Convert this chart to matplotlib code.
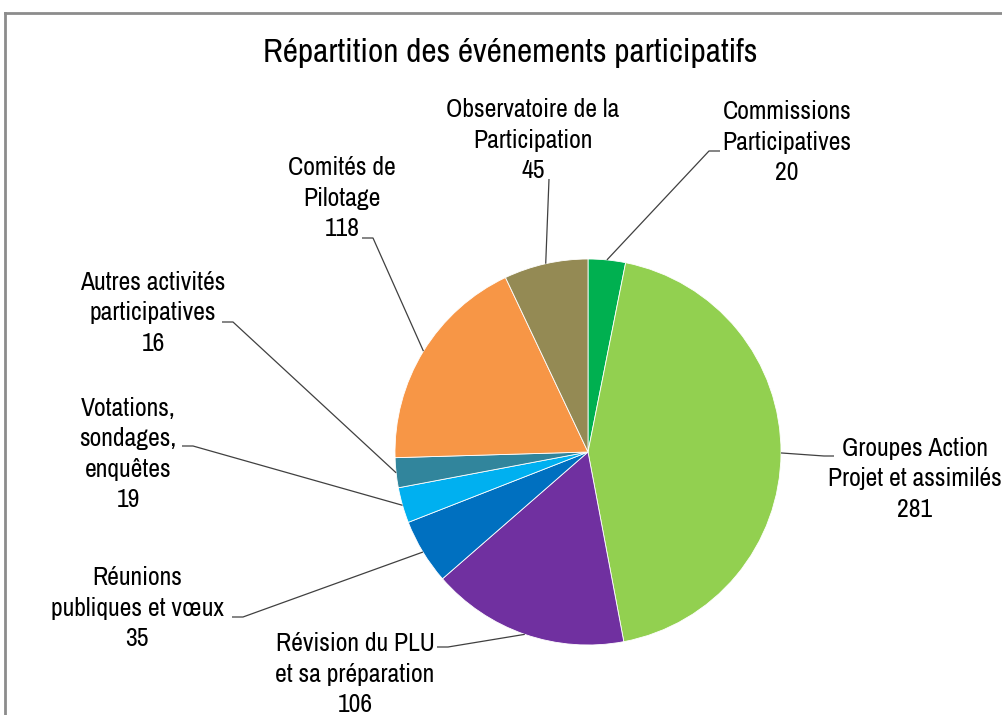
import matplotlib
matplotlib.use("Agg")
import matplotlib.pyplot as plt
import numpy as np

# Données
categories = [
    "Commissions\nParticipatives",
    "Groupes Action\nProjet et assimilés",
    "Révision du PLU\net sa préparation",
    "Réunions\npubliques et vœux",
    "Votations,\nsondages,\nenquêtes",
    "Autres activités\nparticipatives",
    "Comités de\nPilotage",
    "Observatoire de la\nParticipation",
]
values = [20, 281, 106, 35, 19, 16, 118, 45]
colors = ["#00B050", "#92D050", "#7030A0", "#0070C0",
          "#00B0F0", "#31859C", "#F79646", "#948A54"]

# Mise en page (pixels, origine en haut à gauche)
W, H = 1002, 715
center_px = (588, 452)
radius_px = 193
# position du texte, début du trait côté étiquette, petit trait horizontal (vers le camembert)
label_pos = [(787, 142), (915, 479), (355, 674), (137, 608),
             (128, 454), (153, 313), (342, 198), (533, 140)]
anchor_pos = [(720, 151), (834, 456), (437, 647), (232, 617),
              (182, 446), (222, 322), (362, 238), (549, 179)]
stub_dx = [-11, -10, 11, 11, 11, 11, 11, 0]

plt.rcParams['font.family'] = ['Archivo Narrow', 'Liberation Sans', 'DejaVu Sans']


def Y(y):
    return H - y


fig = plt.figure(figsize=(W / 100, H / 100), dpi=100)
ax = fig.add_axes([0, 0, 1, 1])

wedges, _ = ax.pie(values, colors=colors, startangle=90, counterclock=False,
                   center=(center_px[0], Y(center_px[1])), radius=radius_px,
                   wedgeprops=dict(edgecolor="white", linewidth=0.6))

ax.set_xlim(0, W)
ax.set_ylim(0, H)
ax.set_aspect("equal")
ax.axis("off")

# Cadre
ax.plot([5, W + 5], [Y(13), Y(13)], color="#8C8C8C", lw=2, clip_on=False)
ax.plot([5, 5], [Y(13), Y(H + 5)], color="#8C8C8C", lw=2, clip_on=False)

ax.text(510, Y(53), "Répartition des événements participatifs",
        ha="center", va="center", fontsize=24, color="black")

for w, cat, v, lp, ap, dx in zip(wedges, categories, values, label_pos, anchor_pos, stub_dx):
    mid = np.deg2rad((w.theta1 + w.theta2) / 2)
    ex = center_px[0] + radius_px * np.cos(mid)
    ey = Y(center_px[1]) + radius_px * np.sin(mid)
    x0, y0 = ap[0], Y(ap[1])
    ax.plot([x0, x0 + dx, ex], [y0, y0, ey], color="#404040", lw=0.9, solid_capstyle="butt")
    ax.text(lp[0], Y(lp[1]), f"{cat}\n{v}", ha="center", va="center",
            multialignment="center", fontsize=18.5, linespacing=1.38, color="black")

fig.savefig("out.png", dpi=100)
